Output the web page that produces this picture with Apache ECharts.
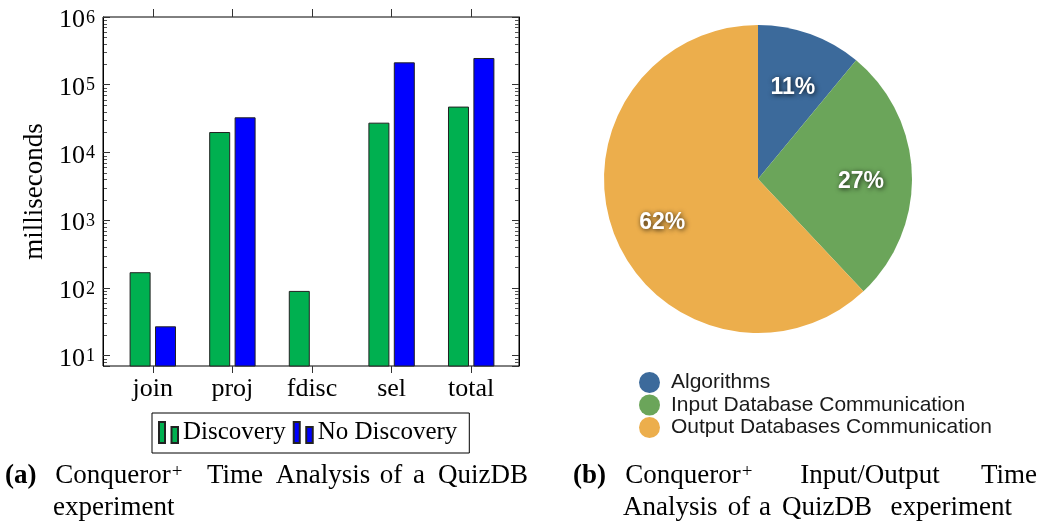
<!DOCTYPE html>
<html><head><meta charset="utf-8">
<script src="https://cdn.jsdelivr.net/npm/echarts@6/dist/echarts.min.js"></script>
<style>html,body{margin:0;padding:0;background:#fff}#c{width:1041px;height:527px}</style>
</head><body><div id="c"></div>
<script>
// ---- data ----
const categories = ['join', 'proj', 'fdisc', 'sel', 'total'];
const seriesNames = ['Discovery', 'No Discovery'];
const discovery = [170, 20000, 90, 27500, 47500];
const noDiscovery = [27, 33000, null, 214000, 248000];
const yAxisMin = 7;
const yAxisMax = 1000000;
const yAxisTitle = 'milliseconds';
const pieNames = ['Algorithms', 'Input Database Communication', 'Output Databases Communication'];
const pieValues = [11, 27, 62];

// ---- styles ----
const SERIF = '"Liberation Serif", "Times New Roman", serif';
const SANS = '"Liberation Sans", Arial, Helvetica, sans-serif';
const GREEN = '#00b050', BLUE = '#0000ff';
const PIE_COLORS = ['#3c6a9b', '#6ba55a', '#ecae4c'];

const chart = echarts.init(document.getElementById('c'), null, {renderer: 'canvas'});

const GA = {left: 103, right: 522, top: 17, bottom: 161}; // frame grid
const GB = {left: 113, width: 398, top: 17, bottom: 161};  // category grid

function decadeLabel(v) {
  const e = Math.log10(v), r = Math.round(e);
  if (Math.abs(e - r) > 1e-6) return '';
  return '{b|10}{s|' + r + '}';
}

const logCommon = {type: 'log', min: yAxisMin, max: yAxisMax, logBase: 10};

const option = {
  animation: false,
  backgroundColor: '#fff',
  grid: [
    Object.assign({show: true, borderColor: '#000', borderWidth: 1, backgroundColor: 'transparent'}, GA),
    Object.assign({show: false}, GB)
  ],
  xAxis: [
    {gridIndex: 0, type: 'value', show: false},
    {gridIndex: 1, type: 'category', data: categories, position: 'bottom',
     axisLine: {show: false},
     axisTick: {show: true, alignWithLabel: true, inside: false, length: 7, lineStyle: {color: '#333', width: 1}},
     axisLabel: {color: '#000', fontFamily: SERIF, fontSize: 26, margin: 10}},
    {gridIndex: 1, type: 'category', data: categories, position: 'top',
     axisLine: {show: false},
     axisTick: {show: true, alignWithLabel: true, inside: false, length: 8, lineStyle: {color: '#333', width: 1}},
     axisLabel: {show: false}}
  ],
  yAxis: [
    Object.assign({gridIndex: 0, position: 'left', name: yAxisTitle, nameLocation: 'middle', nameGap: 55,
     nameTextStyle: {color: '#000', fontFamily: SERIF, fontSize: 27},
     axisLine: {show: true, lineStyle: {color: '#000', width: 1}},
     axisTick: {show: true, inside: true, length: 7, lineStyle: {color: '#333', width: 1}},
     splitLine: {show: false},
     axisLabel: {formatter: decadeLabel, margin: 8, color: '#000',
       rich: {
         b: {fontFamily: SERIF, fontSize: 26, lineHeight: 26, padding: [7, 0, 0, 0], color: '#000'},
         s: {fontFamily: SERIF, fontSize: 18, lineHeight: 18, padding: [5, 0, 0, 1], verticalAlign: 'top', color: '#000'}
       }}}, logCommon),
    Object.assign({gridIndex: 0, position: 'right',
     axisLine: {show: true, lineStyle: {color: '#000', width: 1}},
     axisTick: {show: true, inside: true, length: 7, lineStyle: {color: '#333', width: 1}},
     splitLine: {show: false}, axisLabel: {show: false}}, logCommon),
    Object.assign({gridIndex: 1, show: false, splitLine: {show: false}}, logCommon)
  ],
  legend: [
    {data: seriesNames, left: 152, top: 413, orient: 'horizontal',
     borderColor: '#000', borderWidth: 1, padding: [7, 12, 8, 6], itemGap: 7,
     itemWidth: 19, itemHeight: 21,
     icon: 'path://M0,0H6V21H0Z M12.5,5H19V21H12.5Z',
     textStyle: {fontFamily: SERIF, fontSize: 25, color: '#000'}},
    {data: pieNames, left: 634, top: 367, orient: 'vertical', itemGap: 1.5,
     itemWidth: 21, itemHeight: 21, icon: 'circle',
     textStyle: {fontFamily: SANS, fontSize: 21, color: '#1a1a1a', lineHeight: 21, padding: [0, 0, 0, 6]}}
  ],
  series: [
    {name: seriesNames[0], type: 'bar', xAxisIndex: 1, yAxisIndex: 2, data: discovery,
     barWidth: 21, barGap: '21%', clip: true,
     itemStyle: {color: GREEN, borderColor: '#222', borderWidth: 1}},
    {name: seriesNames[1], type: 'bar', xAxisIndex: 1, yAxisIndex: 2, data: noDiscovery,
     barWidth: 21, barGap: '21%', clip: true,
     itemStyle: {color: BLUE, borderColor: '#222', borderWidth: 1}},
    {type: 'pie', center: [758, 179], radius: [0, 154], startAngle: 90, clockwise: true,
     data: pieNames.map((n, i) => ({name: n, value: pieValues[i], itemStyle: {color: PIE_COLORS[i]}})),
     label: {show: false}, labelLine: {show: false}, emphasis: {scale: false}},
    {type: 'pie', center: [758, 179], radius: [46, 154], startAngle: 90, clockwise: true, silent: true,
     legendHoverLink: false,
     data: pieNames.map((n, i) => ({name: n, value: pieValues[i]})),
     itemStyle: {color: 'rgba(0,0,0,0)'},
     label: {show: true, position: 'inside', formatter: '{g|}\n{v|{c}%}',
       rich: {
         g: {height: 12, lineHeight: 12},
         v: {color: '#fff', fontFamily: SANS, fontWeight: 'bold', fontSize: 23, lineHeight: 24,
             textShadowColor: 'rgba(0,0,0,0.8)', textShadowBlur: 5, textShadowOffsetX: 1, textShadowOffsetY: 1}
       }},
     labelLine: {show: false}, emphasis: {disabled: true}}
  ]
};
chart.setOption(option);

// ---- minor ticks (positions from the library's log scale) ----
const graphics = [];
const gLeft = GA.left, gRight = 1041 - GA.right;
for (let k = 0; k <= 5; k++) {
  for (let m = 2; m <= 9; m++) {
    const v = m * Math.pow(10, k);
    if (v <= yAxisMin || v >= yAxisMax) continue;
    const y = Math.round(chart.convertToPixel({yAxisIndex: 0}, v)) + 0.5;
    graphics.push({type: 'line', silent: true, shape: {x1: gLeft, y1: y, x2: gLeft + 4, y2: y}, style: {stroke: '#555', lineWidth: 1}});
    graphics.push({type: 'line', silent: true, shape: {x1: gRight - 4, y1: y, x2: gRight, y2: y}, style: {stroke: '#555', lineWidth: 1}});
  }
}

// ---- captions (each word centred where it sits in the typeset caption) ----
function txt(text, x, y, size, opts) {
  opts = opts || {};
  return {type: 'text', x: x, y: y, silent: true,
    style: {text: text, fill: '#000', font: (opts.bold ? 'bold ' : '') + size + 'px ' + SERIF,
      align: opts.align || 'center', verticalAlign: 'middle'}};
}
const L1 = 476, L2 = 508, CS = 27;
[
  txt('(a)', 5, L1, CS, {bold: true, align: 'left'}), txt('Conqueror', 113, L1, CS), txt('+', 177, 472, 19),
  txt('Time', 235, L1, CS), txt('Analysis', 323, L1, CS), txt('of', 391, L1, CS),
  txt('a', 419, L1, CS), txt('QuizDB', 528, L1, CS, {align: 'right'}), txt('experiment', 53, L2, CS, {align: 'left'}),
  txt('(b)', 573, L1, CS, {bold: true, align: 'left'}), txt('Conqueror', 683, L1, CS), txt('+', 747, 472, 19),
  txt('Input/Output', 870, L1, CS), txt('Time', 1037, L1, CS, {align: 'right'}),
  txt('Analysis', 623, L2, CS, {align: 'left'}), txt('of', 739, L2, CS), txt('a', 765, L2, CS),
  txt('QuizDB', 827, L2, CS), txt('experiment', 1012, L2, CS, {align: 'right'})
].forEach(g => graphics.push(g));

chart.setOption({graphic: graphics});
</script>
</body></html>
